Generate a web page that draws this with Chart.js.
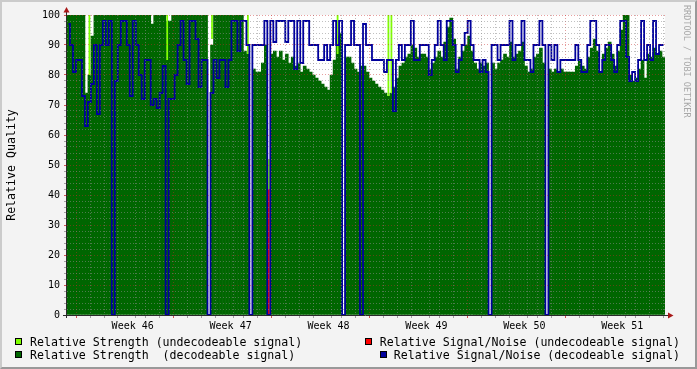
<!DOCTYPE html>
<html>
<head>
<meta charset="utf-8">
<title>Relative Quality</title>
<script src="https://cdn.jsdelivr.net/npm/chart.js@4"></script>
<style>
  html, body { margin: 0; padding: 0; background: #f3f3f3; }
  #wrap { position: relative; width: 697px; height: 369px; background: #f3f3f3; overflow: hidden;
          font-family: 'DejaVu Sans Mono', monospace; }
  #wrap canvas { position: absolute; left: 0; top: 0; }
  #frame { position: absolute; left: 0; top: 0; width: 697px; height: 369px; box-sizing: border-box;
           border-top: 2px solid #cbcbcb; border-left: 2px solid #cbcbcb;
           border-right: 2px solid #999; border-bottom: 2px solid #999; pointer-events: none; }
  .lg { position: absolute; font-size: 11.6px; line-height: 14px; white-space: pre; color: #000; }
  .box { position: absolute; width: 5px; height: 5px; border: 1px solid #000; }
  #credit { position: absolute; left: 682px; top: 5px; writing-mode: vertical-rl;
            font-size: 8.5px; line-height: 10px; color: #a8a8a8; white-space: pre; }
</style>
</head>
<body>
<div id="wrap">
  <canvas id="c" width="697" height="369"></canvas>
  <div id="credit">RRDTOOL / TOBI OETIKER</div>
  <span class="box" style="left:15px;top:338px;background:#7fff00"></span>
  <div class="lg" style="left:30px;top:335px">Relative Strength (undecodeable signal)</div>
  <span class="box" style="left:15px;top:351px;background:#006600"></span>
  <div class="lg" style="left:30px;top:347.5px">Relative Strength  (decodeable signal)</div>
  <span class="box" style="left:365px;top:338px;background:#ff0000"></span>
  <div class="lg" style="right:17px;top:335px">Relative Signal/Noise (undecodeable signal)</div>
  <span class="box" style="left:380px;top:351px;background:#00009c"></span>
  <div class="lg" style="right:17px;top:347.5px">Relative Signal/Noise (decodeable signal)</div>
  <div id="frame"></div>
</div>
<script>
// one value per time slot (about 3 px of the original graph), 0 = no data
const strength = [
  100, 100, 100, 100, 100, 100, 74, 80, 93, 100,
  100, 100, 100, 100, 100, 100, 100, 100, 100, 100,
  100, 100, 100, 100, 100, 100, 100, 100, 97, 100,
  100, 100, 100, 98, 98, 100, 100, 100, 100, 100,
  100, 100, 100, 100, 100, 100, 100, 0, 90, 100,
  100, 100, 100, 100, 100, 100, 100, 100, 100, 88,
  87, 0, 82, 81, 81, 84, 90, 0, 87, 88,
  86, 88, 85, 87, 84, 86, 83, 84, 81, 83,
  82, 81, 80, 79, 78, 77, 76, 75, 80, 85,
  93, 94, 0, 86, 86, 84, 82, 81, 83, 83,
  81, 79, 78, 77, 76, 75, 74, 73, 74, 76,
  79, 83, 84, 86, 87, 90, 89, 86, 87, 87,
  86, 82, 84, 86, 88, 86, 91, 96, 99, 92,
  82, 86, 88, 90, 93, 88, 84, 82, 84, 83,
  84, 0, 84, 82, 84, 85, 87, 86, 91, 86,
  87, 88, 91, 83, 81, 82, 86, 87, 89, 84,
  0, 82, 81, 82, 81, 82, 81, 81, 81, 81,
  83, 85, 83, 82, 86, 89, 92, 88, 81, 87,
  89, 91, 87, 83, 88, 95, 100, 100, 80, 78,
  79, 82, 85, 79, 87, 86, 89, 87, 88, 86
];
const signalNoise = [
  97, 90, 81, 85, 85, 73, 63, 71, 77, 90,
  67, 90, 98, 90, 98, 0, 78, 90, 98, 98,
  90, 73, 98, 90, 80, 72, 85, 85, 70, 72,
  69, 74, 83, 0, 72, 72, 80, 90, 98, 85,
  77, 98, 98, 92, 76, 85, 85, 0, 74, 85,
  79, 85, 85, 76, 85, 98, 98, 88, 98, 98,
  90, 0, 90, 90, 90, 90, 98, 0, 98, 91,
  98, 98, 98, 91, 98, 98, 82, 98, 84, 98,
  98, 90, 90, 90, 85, 85, 90, 85, 90, 98,
  90, 98, 0, 90, 90, 98, 90, 90, 0, 97,
  90, 90, 85, 85, 85, 85, 81, 85, 85, 68,
  85, 90, 85, 90, 90, 98, 85, 85, 90, 90,
  90, 80, 85, 90, 98, 90, 85, 98, 98, 90,
  81, 85, 90, 94, 98, 90, 85, 85, 81, 85,
  81, 0, 90, 90, 85, 90, 90, 90, 98, 85,
  90, 90, 98, 85, 85, 81, 90, 90, 98, 90,
  0, 90, 85, 90, 81, 85, 85, 85, 85, 85,
  90, 85, 81, 81, 90, 98, 98, 90, 81, 85,
  90, 90, 85, 81, 90, 98, 98, 86, 78, 81,
  78, 85, 98, 85, 90, 85, 98, 87, 90, 90
];
// [slot, from, to]
const strengthUndecodeable = [
  [7, 80, 100], [33, 85, 100], [48, 92, 100], [60, 87, 100],
  [67, 42, 52], [90, 87, 100], [107, 73, 100], [108, 74, 100]
];
const signalNoiseUndecodeable = [[67, 0, 42]];

const weekLabels = ['Week 46', 'Week 47', 'Week 48', 'Week 49', 'Week 50', 'Week 51'];
const weekLabelDays = [4.25, 11.25, 18.25, 25.25, 32.25, 39.25];
const yLabels = [0, 10, 20, 30, 40, 50, 60, 70, 80, 90, 100];
const firstMidnight = 0.7;   // days from the left edge to the first day line
const spanDays = 41.86;

const slots = strength.map((_, i) => i);
function sparse(marks) {
  const out = slots.map(() => null);
  marks.forEach(([i, lo, hi]) => { out[i] = [lo, hi]; });
  return out;
}

const dayTicks = [];
for (let d = firstMidnight; d < spanDays; d += 1) dayTicks.push(+d.toFixed(2));
const yTicks = [];
for (let v = 0; v <= 100; v += 2) yTicks.push(v);

const MINOR = 'rgba(140,140,140,0.55)';
const MAJOR = 'rgba(200,40,40,0.45)';
const font = { family: 'DejaVu Sans Mono', size: 10 };

function isWeekLabel(v) { return weekLabelDays.some(w => Math.abs(w - v) < 1e-6); }
function isWeekLine(v) {
  const r = (v - firstMidnight) % 7;
  return Math.abs(r) < 1e-6 || Math.abs(r - 7) < 1e-6;
}

const rrdFrame = {
  id: 'rrdFrame',
  beforeDraw(chart) {
    const { ctx, chartArea: a } = chart;
    ctx.save();
    ctx.fillStyle = '#ffffff';
    ctx.fillRect(a.left, a.top, a.right - a.left, a.bottom - a.top);
    ctx.restore();
  },
  afterDraw(chart) {
    const { ctx, chartArea: a } = chart;
    ctx.save();
    ctx.strokeStyle = '#2a2a2a';
    ctx.lineWidth = 1;
    ctx.beginPath();
    ctx.moveTo(a.left - 0.5, a.bottom + 3);
    ctx.lineTo(a.left - 0.5, a.top - 3);
    ctx.moveTo(a.left - 4, a.bottom + 0.5);
    ctx.lineTo(a.right + 3, a.bottom + 0.5);
    ctx.stroke();
    ctx.fillStyle = '#a81818';
    ctx.beginPath();
    ctx.moveTo(a.left - 3.5, a.top - 2.5);
    ctx.lineTo(a.left + 2.5, a.top - 2.5);
    ctx.lineTo(a.left - 0.5, a.top - 8);
    ctx.closePath();
    ctx.fill();
    ctx.beginPath();
    ctx.moveTo(a.right + 3, a.bottom - 2.5);
    ctx.lineTo(a.right + 3, a.bottom + 3.5);
    ctx.lineTo(a.right + 8.5, a.bottom + 0.5);
    ctx.closePath();
    ctx.fill();
    ctx.restore();
  }
};

new Chart(document.getElementById('c'), {
  type: 'bar',
  data: {
    labels: slots,
    datasets: [
      {
        type: 'line',
        label: 'Relative Signal/Noise (decodeable signal)',
        data: signalNoise,
        xAxisID: 'x', yAxisID: 'y',
        borderColor: '#00009c',
        borderWidth: 1.8,
        stepped: 'middle',
        pointRadius: 0,
        fill: false,
        order: 0
      },
      {
        label: 'Relative Signal/Noise (undecodeable signal)',
        data: sparse(signalNoiseUndecodeable),
        xAxisID: 'x', yAxisID: 'y',
        backgroundColor: '#ff0000',
        barPercentage: 0.6, categoryPercentage: 1, grouped: false,
        order: 1
      },
      {
        label: 'Relative Strength (undecodeable signal)',
        data: sparse(strengthUndecodeable),
        xAxisID: 'x', yAxisID: 'y',
        backgroundColor: '#7fff00',
        barPercentage: 0.6, categoryPercentage: 1, grouped: false,
        order: 2
      },
      {
        label: 'Relative Strength  (decodeable signal)',
        data: strength,
        xAxisID: 'x', yAxisID: 'y',
        backgroundColor: '#006600',
        barPercentage: 1, categoryPercentage: 1, grouped: false,
        order: 3
      }
    ]
  },
  options: {
    responsive: false,
    animation: false,
    devicePixelRatio: 1,
    layout: { padding: { left: 0, top: 15, right: 32, bottom: 0 } },
    plugins: { legend: { display: false }, tooltip: { enabled: false } },
    scales: {
      x: { type: 'category', display: false },
      xg: {
        type: 'linear',
        position: 'bottom',
        min: 0,
        max: spanDays,
        afterBuildTicks: (s) => {
          s.ticks = dayTicks.concat(weekLabelDays).sort((p, q) => p - q).map(v => ({ value: v }));
        },
        afterFit: (s) => { s.height = 54; },
        ticks: {
          autoSkip: false, maxRotation: 0, minRotation: 0,
          font, color: '#000', padding: 2,
          callback: (v) => {
            const k = weekLabelDays.findIndex(w => Math.abs(w - v) < 1e-6);
            return k >= 0 ? weekLabels[k] : '';
          }
        },
        grid: {
          z: 1,
          lineWidth: 1,
          tickLength: 3,
          color: (ctx) => {
            const v = ctx.tick ? ctx.tick.value : 0;
            if (isWeekLabel(v)) return 'rgba(0,0,0,0)';
            return isWeekLine(v) ? MAJOR : MINOR;
          },
          tickColor: (ctx) => {
            const v = ctx.tick ? ctx.tick.value : 0;
            if (isWeekLabel(v)) return 'rgba(0,0,0,0)';
            return isWeekLine(v) ? 'rgba(200,40,40,0.8)' : 'rgba(140,140,140,0.8)';
          }
        },
        border: { display: false, dash: [1, 2] }
      },
      y: {
        type: 'linear',
        min: 0,
        max: 100,
        afterBuildTicks: (s) => { s.ticks = yTicks.map(v => ({ value: v })); },
        afterFit: (s) => { s.width = 67; },
        ticks: {
          autoSkip: false, font, color: '#000', padding: 4,
          callback: (v) => (yLabels.includes(v) ? String(v) : '')
        },
        grid: {
          z: 1,
          lineWidth: 1,
          tickLength: 3,
          color: (ctx) => (ctx.tick && yLabels.includes(ctx.tick.value) ? MAJOR : MINOR),
          tickColor: (ctx) => (ctx.tick && yLabels.includes(ctx.tick.value) ? 'rgba(200,40,40,0.8)' : 'rgba(140,140,140,0.8)')
        },
        border: { display: false, dash: [1, 2] },
        title: {
          display: true,
          text: 'Relative Quality',
          font: { family: 'DejaVu Sans Mono', size: 11.6 },
          color: '#000',
          padding: { top: 5, bottom: 0 }
        }
      }
    }
  },
  plugins: [rrdFrame]
});
</script>
</body>
</html>
